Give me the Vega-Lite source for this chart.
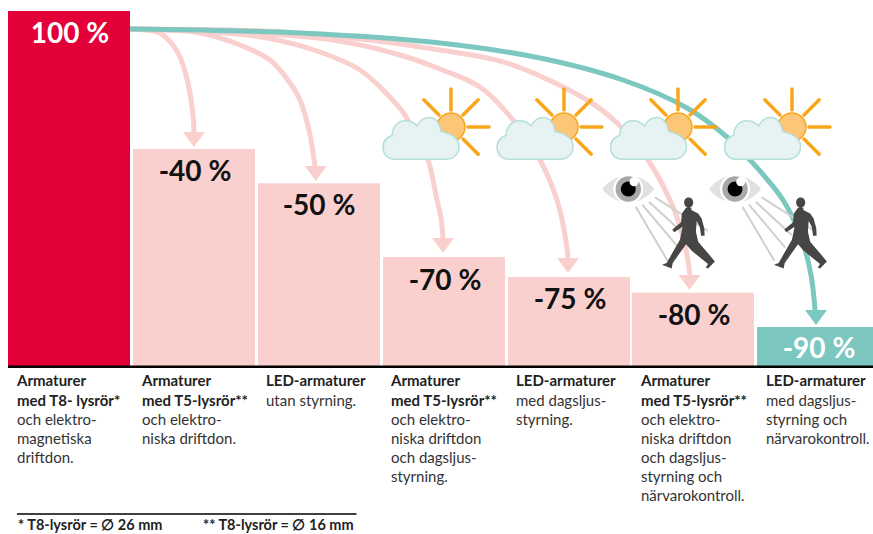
{
"$schema":"https://vega.github.io/schema/vega-lite/v6.json",
"autosize":{"type":"none"},
"width":873,"height":534,"padding":0,"background":"white",
"config":{"view":{"stroke":null},"font":"Lato"},
"encoding":{
"x":{"field":"x","type":"quantitative","axis":null,"scale":{"domain":[0,873],"nice":false,"zero":false}},
"y":{"field":"y","type":"quantitative","axis":null,"scale":{"domain":[-47.324,103.099],"nice":false,"zero":false}}
},
"datasets":{
"bars":[
{"name":"T8 magnetiska","x":8,"end":130,"y":100,"base":0,"tone":"ref","label":"100 %","lx":70,"ly":93.24,"ink":"light"},
{"name":"T5 elektroniska","x":133,"end":255,"y":61.1,"base":0,"tone":"saving","label":"-40 %","lx":195,"ly":54.37,"ink":"dark"},
{"name":"LED utan styrning","x":258,"end":380,"y":51.5,"base":0,"tone":"saving","label":"-50 %","lx":319,"ly":44.79,"ink":"dark"},
{"name":"T5 dagsljus","x":383,"end":505,"y":30.7,"base":0,"tone":"saving","label":"-70 %","lx":445,"ly":23.67,"ink":"dark"},
{"name":"LED dagsljus","x":508,"end":630,"y":25.1,"base":0,"tone":"saving","label":"-75 %","lx":570,"ly":18.31,"ink":"dark"},
{"name":"T5 dagsljus närvaro","x":632,"end":754,"y":20.6,"base":0,"tone":"saving","label":"-80 %","lx":694,"ly":13.81,"ink":"dark"},
{"name":"LED dagsljus närvaro","x":757,"end":873,"y":11,"base":0,"tone":"best","label":"-90 %","lx":819,"ly":4.51,"ink":"light"}
],
"curves":[
{"c":"a1","o":1,"x":130,"y":94.93},{"c":"a1","o":2,"x":145,"y":94.65},{"c":"a1","o":3,"x":160,"y":93.8},{"c":"a1","o":4,"x":172,"y":90.7},{"c":"a1","o":5,"x":180,"y":87.04},{"c":"a1","o":6,"x":186,"y":81.97},{"c":"a1","o":7,"x":190,"y":76.9},{"c":"a1","o":8,"x":193,"y":70.7},{"c":"a1","o":9,"x":194,"y":65.92},
{"c":"a2","o":1,"x":130,"y":94.93},{"c":"a2","o":2,"x":165,"y":94.65},{"c":"a2","o":3,"x":200,"y":93.8},{"c":"a2","o":4,"x":240,"y":90.42},{"c":"a2","o":5,"x":270,"y":86.2},{"c":"a2","o":6,"x":290,"y":79.72},{"c":"a2","o":7,"x":300,"y":74.93},{"c":"a2","o":8,"x":309,"y":66.48},{"c":"a2","o":9,"x":315,"y":56.34},
{"c":"a3","o":1,"x":130,"y":94.93},{"c":"a3","o":2,"x":200,"y":94.37},{"c":"a3","o":3,"x":267,"y":92.39},{"c":"a3","o":4,"x":320,"y":88.45},{"c":"a3","o":5,"x":360,"y":83.38},{"c":"a3","o":6,"x":385,"y":77.18},{"c":"a3","o":7,"x":405,"y":70.7},{"c":"a3","o":8,"x":420,"y":62.25},{"c":"a3","o":9,"x":428,"y":58.03},{"c":"a3","o":10,"x":437,"y":46.76},{"c":"a3","o":11,"x":441,"y":41.69},{"c":"a3","o":12,"x":443,"y":36.06},
{"c":"a4","o":1,"x":130,"y":94.93},{"c":"a4","o":2,"x":230,"y":94.08},{"c":"a4","o":3,"x":333,"y":91.83},{"c":"a4","o":4,"x":400,"y":87.61},{"c":"a4","o":5,"x":440,"y":83.66},{"c":"a4","o":6,"x":480,"y":78.59},{"c":"a4","o":7,"x":513,"y":69.3},{"c":"a4","o":8,"x":540,"y":58.03},{"c":"a4","o":9,"x":557,"y":46.76},{"c":"a4","o":10,"x":565,"y":36.9},{"c":"a4","o":11,"x":568,"y":30.42},
{"c":"a5","o":1,"x":130,"y":94.93},{"c":"a5","o":2,"x":300,"y":93.8},{"c":"a5","o":3,"x":440,"y":89.01},{"c":"a5","o":4,"x":507,"y":85.35},{"c":"a5","o":5,"x":587,"y":74.93},{"c":"a5","o":6,"x":617,"y":68.45},{"c":"a5","o":7,"x":648,"y":58.03},{"c":"a5","o":8,"x":673,"y":44.79},{"c":"a5","o":9,"x":685,"y":34.08},{"c":"a5","o":10,"x":690,"y":25.63}
],
"teal":[
{"o":1,"x":130,"y":94.93},{"o":2,"x":300,"y":93.8},{"o":3,"x":440,"y":90.99},{"o":4,"x":540,"y":86.76},{"o":5,"x":623,"y":80.56},{"o":6,"x":687,"y":72.68},{"o":7,"x":727,"y":64.51},{"o":8,"x":750,"y":58.03},{"o":9,"x":783,"y":46.76},{"o":10,"x":802,"y":35.49},{"o":11,"x":811,"y":25.63},{"o":12,"x":815,"y":15.77}
],
"heads":[
{"x":194,"y":63.8,"tone":"saving"},{"x":315.7,"y":54.23,"tone":"saving"},{"x":443,"y":33.94,"tone":"saving"},{"x":568,"y":28.31,"tone":"saving"},{"x":689.5,"y":23.52,"tone":"saving"},{"x":816,"y":13.66,"tone":"best"}
],
"suns":[{"x":451,"y":67.32},{"x":564,"y":67.32},{"x":678,"y":67.32},{"x":792,"y":67.32}],
"clouds":[{"x":421,"y":64.14},{"x":535,"y":64.14},{"x":648.5,"y":64.14},{"x":762.5,"y":64.14}],
"eyes":[{"x":628.3,"y":49.86},{"x":735,"y":49.86}],
"highlights":[{"x":634,"y":51.9},{"x":740.7,"y":51.9}],
"sight":[
{"x":635.7,"y":44.87,"x2":667.7,"y2":29.63},{"x":642.3,"y":45.44,"x2":678.3,"y2":33.44},{"x":649,"y":46.28,"x2":685,"y2":36.9},{"x":655,"y":47.52,"x2":708,"y2":38.03},
{"x":742.4,"y":44.87,"x2":774.4,"y2":29.63},{"x":749,"y":45.44,"x2":785,"y2":33.44},{"x":755.7,"y":46.28,"x2":791.7,"y2":36.9},{"x":761.7,"y":47.52,"x2":814.7,"y2":38.03}
],
"walkers":[{"x":688.3,"y":37.39},{"x":800.3,"y":37.39}],
"lines":[
{"x":17,"y":-4.23,"t":"Armaturer","b":true},{"x":17,"y":-9.72,"t":"med T8- lysrör*","b":true},{"x":17,"y":-15.21,"t":"och elektro-","b":false},{"x":17,"y":-20.56,"t":"magnetiska","b":false},{"x":17,"y":-25.92,"t":"driftdon.","b":false},
{"x":142,"y":-4.23,"t":"Armaturer","b":true},{"x":142,"y":-9.72,"t":"med T5-lysrör**","b":true},{"x":142,"y":-15.21,"t":"och elektro-","b":false},{"x":142,"y":-20.56,"t":"niska driftdon.","b":false},
{"x":266,"y":-4.23,"t":"LED-armaturer","b":true},{"x":266,"y":-9.72,"t":"utan styrning.","b":false},
{"x":391,"y":-4.23,"t":"Armaturer","b":true},{"x":391,"y":-9.72,"t":"med T5-lysrör**","b":true},{"x":391,"y":-15.21,"t":"och elektro-","b":false},{"x":391,"y":-20.56,"t":"niska driftdon","b":false},{"x":391,"y":-25.92,"t":"och dagsljus-","b":false},{"x":391,"y":-31.27,"t":"styrning.","b":false},
{"x":516,"y":-4.23,"t":"LED-armaturer","b":true},{"x":516,"y":-9.72,"t":"med dagsljus-","b":false},{"x":516,"y":-15.21,"t":"styrning.","b":false},
{"x":641,"y":-4.23,"t":"Armaturer","b":true},{"x":641,"y":-9.72,"t":"med T5-lysrör**","b":true},{"x":641,"y":-15.21,"t":"och elektro-","b":false},{"x":641,"y":-20.56,"t":"niska driftdon","b":false},{"x":641,"y":-25.92,"t":"och dagsljus-","b":false},{"x":641,"y":-31.27,"t":"styrning och","b":false},{"x":641,"y":-36.76,"t":"närvarokontroll.","b":false},
{"x":766,"y":-4.23,"t":"LED-armaturer","b":true},{"x":766,"y":-9.72,"t":"med dagsljus-","b":false},{"x":766,"y":-15.21,"t":"styrning och","b":false},{"x":766,"y":-20.56,"t":"närvarokontroll.","b":false}
],
"notes":[{"x":18,"y":-46.2,"t":"* T8-lysrör = ∅ 26 mm"},{"x":203,"y":-46.2,"t":"** T8-lysrör = ∅ 16 mm"}]
},
"layer":[
{"data":{"name":"bars"},"mark":{"type":"rect"},
 "encoding":{"x2":{"field":"end"},"y2":{"field":"base"},
 "color":{"field":"tone","type":"nominal","legend":null,"scale":{"domain":["ref","saving","best"],"range":["#e30038","#f9d0ce","#7cc7bf"]}}}},
{"data":{"values":[{"x":8,"x2":873,"y":-0.2}]},"mark":{"type":"rule","color":"#000000","strokeWidth":2.5},"encoding":{"x2":{"field":"x2"}}},
{"data":{"values":[{"x":17,"x2":356.5,"y":-41.69}]},"mark":{"type":"rule","color":"#000000","strokeWidth":1.3},"encoding":{"x2":{"field":"x2"}}},
{"data":{"name":"curves"},"mark":{"type":"line","color":"#f9d0ce","strokeWidth":5,"interpolate":"catmull-rom"},
 "encoding":{"detail":{"field":"c"},"order":{"field":"o","type":"quantitative"}}},
{"data":{"name":"teal"},"mark":{"type":"line","color":"#7cc7bf","strokeWidth":5,"interpolate":"catmull-rom"},
 "encoding":{"order":{"field":"o","type":"quantitative"}}},
{"data":{"name":"heads"},"mark":{"type":"point","shape":"M-1,-0.68L1,-0.68L0,0.68Z","size":484,"filled":true,"opacity":1},
 "encoding":{"color":{"field":"tone","type":"nominal","legend":null,"scale":{"domain":["ref","saving","best"],"range":["#e30038","#f9d0ce","#7cc7bf"]}}}},
{"data":{"name":"suns"},"mark":{"type":"point","shape":"M0,-0.95L0,-0.425M0.425,0L0.95,0M-0.68,-0.68L-0.3,-0.3M0.68,-0.68L0.3,-0.3M0.68,0.68L0.3,0.3","size":6400,"filled":false,"stroke":"#f9a61a","strokeWidth":3.5,"strokeCap":"round","opacity":1}},
{"data":{"name":"suns"},"mark":{"type":"point","shape":"circle","size":784,"filled":true,"fill":"#fcc678","stroke":"#f9a61a","strokeWidth":1.5,"opacity":1}},
{"data":{"name":"clouds"},"mark":{"type":"point","shape":"M-0.69,0.55C-0.9,0.55 -1,0.4 -1,0.22C-1,0.05 -0.88,-0.03 -0.76,-0.08C-0.76,-0.3 -0.6,-0.46 -0.42,-0.46C-0.28,-0.46 -0.17,-0.4 -0.105,-0.325C-0.03,-0.47 0.1,-0.55 0.22,-0.55C0.38,-0.55 0.5,-0.4 0.53,-0.18C0.8,-0.12 1,0 1,0.22C1,0.42 0.85,0.55 0.67,0.55Z","size":5776,"filled":true,"fill":"#e7f3f3","stroke":"#b5dfda","strokeWidth":1.5,"opacity":1}},
{"data":{"name":"sight"},"mark":{"type":"rule","color":"#cfcfcf","strokeWidth":2},"encoding":{"x2":{"field":"x2"},"y2":{"field":"y2"}}},
{"data":{"name":"walkers"},"mark":{"type":"point","shape":"M-0.06,-0.67L0.08,-0.67L0.08,-0.61L0.26,-0.52L0.35,-0.39L0.42,-0.13L0.43,0.06L0.34,0.07L0.3,-0.17L0.22,-0.32L0.2,-0.04L0.26,0.22L0.7,0.74L0.52,0.93L0.46,0.9L0.52,0.81L0.09,0.46L-0.06,0.29L-0.41,0.78L-0.44,0.93L-0.69,0.83L-0.57,0.78L-0.22,0.17L-0.15,-0.17L-0.37,-0.03L-0.42,-0.1L-0.19,-0.29L-0.17,-0.52ZM0.01,-0.94C0.09,-0.94 0.13,-0.87 0.13,-0.81C0.13,-0.74 0.08,-0.67 0.01,-0.67C-0.06,-0.67 -0.11,-0.74 -0.11,-0.81C-0.11,-0.87 -0.07,-0.94 0.01,-0.94Z","size":5776,"filled":true,"fill":"#484644","opacity":1}},
{"data":{"name":"eyes"},"mark":{"type":"point","shape":"M-1,0C-0.5,-0.68 0.5,-0.68 1,0C0.5,0.68 -0.5,0.68 -1,0Z","size":2704,"filled":true,"fill":"#e1e1e1","opacity":1}},
{"data":{"name":"eyes"},"mark":{"type":"point","shape":"circle","size":900,"filled":true,"fill":"#ffffff","opacity":1}},
{"data":{"name":"eyes"},"mark":{"type":"point","shape":"circle","size":645,"filled":true,"fill":"#a8a8a8","opacity":1}},
{"data":{"name":"eyes"},"mark":{"type":"point","shape":"circle","size":225,"filled":true,"fill":"#000000","opacity":1}},
{"data":{"name":"highlights"},"mark":{"type":"point","shape":"circle","size":81,"filled":true,"fill":"#ffffff","opacity":1}},
{"data":{"name":"bars"},"mark":{"type":"text","fontSize":28,"fontWeight":"bold","align":"center","baseline":"middle"},
 "encoding":{"x":{"field":"lx","type":"quantitative"},"y":{"field":"ly","type":"quantitative"},"text":{"field":"label"},
 "color":{"field":"ink","type":"nominal","legend":null,"scale":{"domain":["light","dark"],"range":["#ffffff","#111111"]}}}},
{"data":{"name":"lines"},"transform":[{"filter":"datum.b"}],"mark":{"type":"text","fontSize":15,"fontWeight":"bold","align":"left","baseline":"middle","color":"#222222"},
 "encoding":{"text":{"field":"t"}}},
{"data":{"name":"lines"},"transform":[{"filter":"!datum.b"}],"mark":{"type":"text","fontSize":15,"fontWeight":"normal","align":"left","baseline":"middle","color":"#333333"},
 "encoding":{"text":{"field":"t"}}},
{"data":{"name":"notes"},"mark":{"type":"text","fontSize":14.5,"fontWeight":"bold","align":"left","baseline":"alphabetic","color":"#222222"},
 "encoding":{"text":{"field":"t"}}}
],
"resolve":{"scale":{"color":"independent"}}
}
